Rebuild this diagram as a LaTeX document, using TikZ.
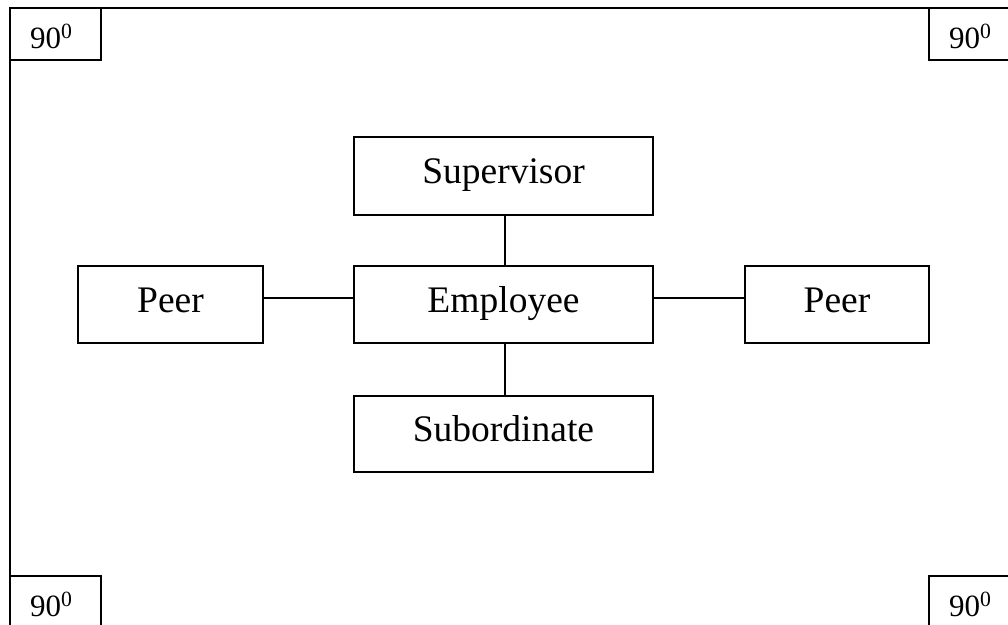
\documentclass[tikz,border=0pt]{standalone}
\usepackage{fontspec}
\setmainfont{Liberation Serif}
\begin{document}
\begin{tikzpicture}[x=1pt,y=-1pt,
  box/.style={draw,line width=1.6pt,rectangle,inner sep=0pt,
    font=\fontsize{37.5}{40}\selectfont,text height=27pt,text depth=12pt},
  corner/.style={draw,line width=1.6pt,rectangle,fill=white,inner sep=0pt,
    minimum width=91pt,minimum height=52pt,font=\fontsize{31}{34}\selectfont,
    text width=51pt,align=left,text height=30pt,text depth=2pt},
  link/.style={line width=1.6pt}]
\clip (0,0) rectangle (1008,624);
\fill[white] (0,0) rectangle (1008,624);
\draw[link] (10,8) rectangle (1020,628);
\node[corner] (tl) at (55.5,34) {90\textsuperscript{0}};
\node[corner] (tr) at (974.5,34) {90\textsuperscript{0}};
\node[corner] (bl) at (55.5,602) {90\textsuperscript{0}};
\node[corner] (br) at (974.5,602) {90\textsuperscript{0}};
\node[box,minimum width=299pt,minimum height=78pt] (sup) at (503.5,176) {Supervisor};
\node[box,minimum width=299pt,minimum height=77pt] (emp) at (503.5,304.5) {Employee};
\node[box,minimum width=185pt,minimum height=77pt] (pl) at (170.5,304.5) {Peer};
\node[box,minimum width=184pt,minimum height=77pt] (pr) at (837,304.5) {Peer};
\node[box,minimum width=299pt,minimum height=76pt] (sub) at (503.5,434) {Subordinate};
\draw[link] ([xshift=1.5pt]sup.south) -- ([xshift=1.5pt]emp.north);
\draw[link] ([xshift=1.5pt]emp.south) -- ([xshift=1.5pt]sub.north);
\draw[link] ([yshift=6.5pt]pl.east) -- ([yshift=6.5pt]emp.west);
\draw[link] ([yshift=6.5pt]emp.east) -- ([yshift=6.5pt]pr.west);
\end{tikzpicture}
\end{document}
